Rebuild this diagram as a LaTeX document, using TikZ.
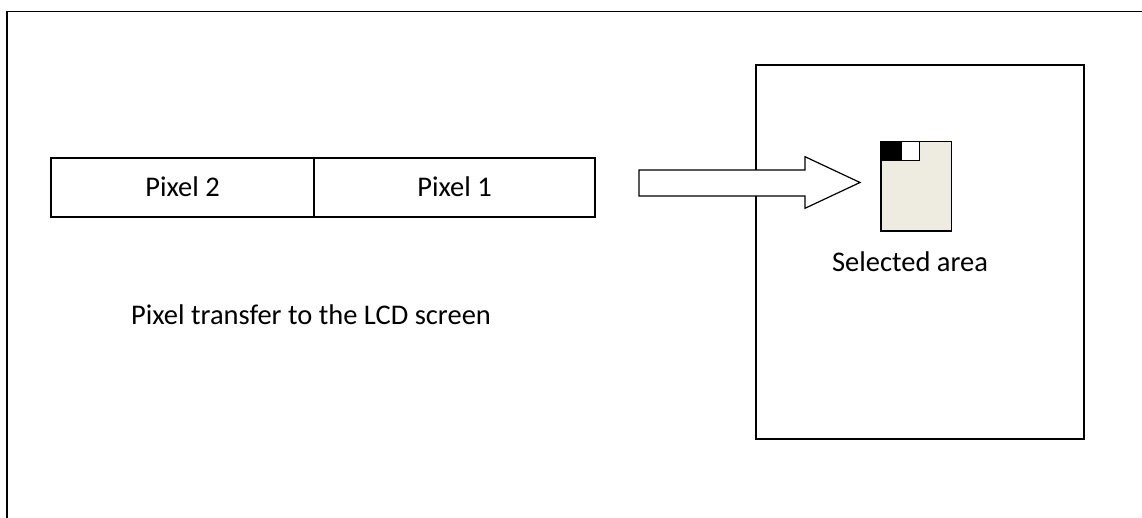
\documentclass[tikz,border=0pt]{standalone}
\usepackage{fontspec}
\setmainfont{Carlito}
\definecolor{areafill}{HTML}{EEECE1}
\tikzset{
  cell/.style={draw=black, line width=1.3pt, inner sep=0pt, minimum height=59pt},
  txt/.style={font=\fontsize{28.5}{34}\selectfont, inner sep=0pt, anchor=base},
  frame/.style={draw=black, line width=1.6pt},
  screen/.style={draw=black, line width=1.3pt, inner sep=0pt, minimum width=328pt, minimum height=374pt},
  sq/.style={draw=black, line width=1.2pt, inner sep=0pt}
}
\begin{document}
\begin{tikzpicture}[x=1pt,y=-1pt]
\useasboundingbox (0,0) rectangle (1142,518);
\clip (0,0) rectangle (1142,518);
% outer frame (cropped)
\draw[frame] (1160,11.7) -- (6.7,11.7) -- (6.7,540);
% pixel cells
\node[cell, minimum width=263pt] (p2) at (182.5,187.5) {};
\node[cell, minimum width=281pt] (p1) at (454.5,187.5) {};
\node[txt] (t2) at (182.5,197) {Pixel 2};
\node[txt] (t1) at (454.5,197) {Pixel 1};
\node[txt] (cap) at (311,324) {Pixel transfer to the LCD screen};
% screen
\node[screen] (scr) at (920,252) {};
% block arrow
\draw[line width=1.2pt, fill=white, line join=miter]
  (639,170) -- (805,170) -- (805,156.7) -- (860,182.5) -- (805,208.3) -- (805,196) -- (639,196) -- cycle;
% selected area
\node[sq, fill=areafill, minimum width=70.7pt, minimum height=89.3pt] (sel) at (916.35,186.35) {};
\node[sq, fill=black, minimum width=20pt, minimum height=19pt] (blk) at (891,151.2) {};
\node[sq, fill=white, minimum width=18.3pt, minimum height=19pt] (wht) at (910.15,151.2) {};
\node[txt] (st) at (910,272) {Selected area};
\end{tikzpicture}
\end{document}
